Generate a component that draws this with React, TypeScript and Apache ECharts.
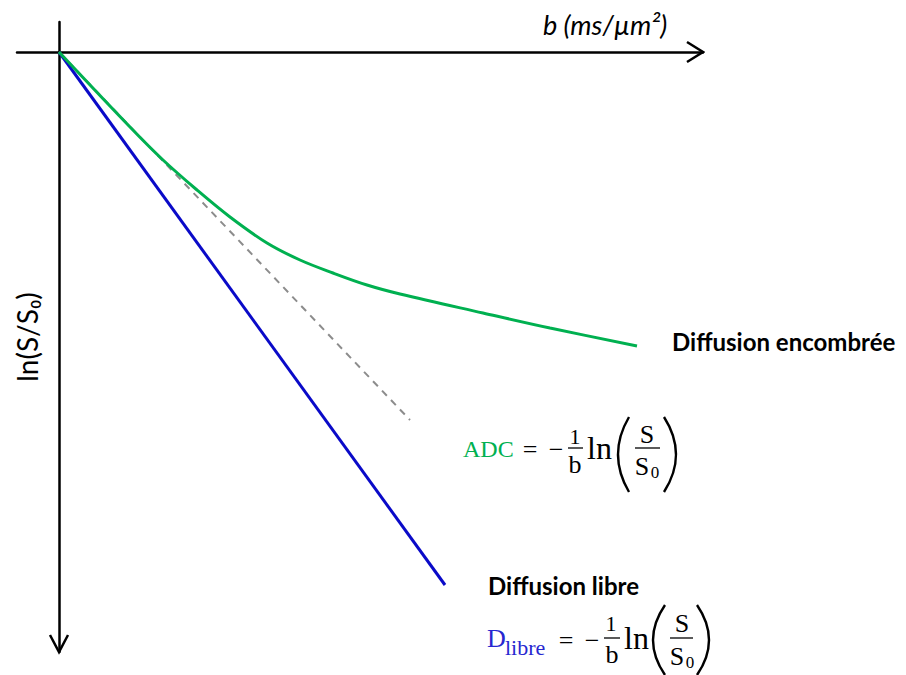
import React, { useEffect, useRef } from "react";
import * as echarts from "echarts";

// b (arbitrary units) and ln(S/S0) values
const libreB = [0, 3.86];
const libreLn = [0, -5.33];
const tangentB = [0, 3.51];
const tangentLn = [0, -3.68];
const encombreeB = [0, 0.71, 1.04, 1.38, 1.71, 2.08, 2.41, 2.74, 3.08, 3.41, 4.24, 4.91, 5.78];
const encombreeLn = [0, -0.75, -1.08, -1.38, -1.65, -1.91, -2.08, -2.21, -2.33, -2.42, -2.61, -2.76, -2.94];

const X_MIN = -0.42;
const X_MAX = 6.44;
const Y_MIN = -6.0;
const Y_MAX = 0.3;

const xArrowB = [X_MAX - 0.16, X_MAX, X_MAX - 0.16];
const xArrowLn = [0.1, 0, -0.1];
const yArrowB = [-0.09, 0, 0.09];
const yArrowLn = [Y_MIN + 0.17, Y_MIN, Y_MIN + 0.17];

const zip = (a: number[], b: number[]) => a.map((v, i) => [v, b[i]]);

const GREEN = "#00B050";
const BLUE = "#0A0AC8";
const MATH_BLUE = "#2727D0";
const SERIF = "'Liberation Serif', 'DejaVu Serif', serif";
const SANS = "Lato, 'Open Sans', sans-serif";

function mathText(text: string, x: number, y: number, size: number, color = "#000", align = "center") {
  return {
    type: "text",
    x,
    y,
    style: {
      text,
      font: `${size}px ${SERIF}`,
      fill: color,
      textAlign: align,
      textVerticalAlign: "middle",
    },
  };
}

function bar(x1: number, x2: number, y: number) {
  return {
    type: "line",
    shape: { x1, y1: y, x2, y2: y },
    style: { stroke: "#000", lineWidth: 1.3 },
  };
}

function paren(x: number, cx: number, y1: number, y2: number) {
  return {
    type: "bezierCurve",
    shape: { x1: x, y1, x2: x, y2, cpx1: cx, cpy1: (y1 + y2) / 2 },
    style: { stroke: "#000", lineWidth: 2.4, fill: null },
  };
}

export default function App() {
  const ref = useRef<HTMLDivElement>(null);

  useEffect(() => {
    if (!ref.current) return;
    const chart = echarts.init(ref.current, undefined, { renderer: "svg" });
    const axisLine = { show: true, onZero: true, lineStyle: { color: "#000", width: 2.5 } };
    chart.setOption({
      animation: false,
      backgroundColor: "#fff",
      grid: { left: 17, right: 203, top: 22, bottom: 23, outerBoundsMode: "none" },
      xAxis: {
        type: "value",
        min: X_MIN,
        max: X_MAX,
        axisLine,
        axisTick: { show: false },
        axisLabel: { show: false },
        splitLine: { show: false },
      },
      yAxis: {
        type: "value",
        min: Y_MIN,
        max: Y_MAX,
        axisLine,
        axisTick: { show: false },
        axisLabel: { show: false },
        splitLine: { show: false },
      },
      series: [
        {
          name: "Diffusion libre",
          type: "line",
          data: zip(libreB, libreLn),
          symbol: "none",
          clip: false,
          lineStyle: { color: BLUE, width: 3 },
        },
        {
          name: "ADC",
          type: "line",
          data: zip(tangentB, tangentLn),
          symbol: "none",
          clip: false,
          lineStyle: { color: "#8C8C8C", width: 2, type: [7, 6] },
        },
        {
          name: "Diffusion encombrée",
          type: "line",
          data: zip(encombreeB, encombreeLn),
          symbol: "none",
          smooth: 0.35,
          clip: false,
          lineStyle: { color: GREEN, width: 3 },
        },
        {
          name: "xArrow",
          type: "line",
          data: zip(xArrowB, xArrowLn),
          symbol: "none",
          clip: false,
          lineStyle: { color: "#000", width: 2.5, join: "miter" },
        },
        {
          name: "yArrow",
          type: "line",
          data: zip(yArrowB, yArrowLn),
          symbol: "none",
          clip: false,
          lineStyle: { color: "#000", width: 2.5, join: "miter" },
        },
      ],
      graphic: [
        {
          type: "text",
          x: 543,
          y: 24,
          style: {
            text: "b (ms/µm²)",
            font: `italic 27px ${SANS}`,
            fill: "#000",
            textAlign: "left",
            textVerticalAlign: "middle",
          },
        },
        {
          type: "text",
          x: 27,
          y: 337,
          rotation: Math.PI / 2,
          style: {
            text: "ln(S/S₀)",
            font: `28px ${SANS}`,
            fill: "#000",
            textAlign: "center",
            textVerticalAlign: "middle",
          },
        },
        {
          type: "text",
          x: 672,
          y: 341,
          style: {
            text: "Diffusion encombrée",
            font: `bold 24px ${SANS}`,
            fill: "#000",
            textAlign: "left",
            textVerticalAlign: "middle",
          },
        },
        {
          type: "text",
          x: 488,
          y: 585,
          style: {
            text: "Diffusion libre",
            font: `bold 24px ${SANS}`,
            fill: "#000",
            textAlign: "left",
            textVerticalAlign: "middle",
          },
        },
        // ADC formula
        mathText("ADC", 463, 449, 24, GREEN, "left"),
        mathText("=", 530, 449, 26),
        mathText("−", 556, 449, 26),
        mathText("1", 575, 436, 22),
        bar(568, 583, 448),
        mathText("b", 575, 464, 26),
        mathText("ln", 587, 448, 32, "#000", "left"),
        paren(629, 607, 417, 492),
        paren(664, 688, 417, 492),
        mathText("S", 647, 434, 26),
        bar(635, 660, 448),
        mathText("S", 642, 466, 26),
        mathText("0", 655, 472, 17),
        // D libre formula
        mathText("D", 487, 638, 26, MATH_BLUE, "left"),
        mathText("libre", 505, 647, 22, MATH_BLUE, "left"),
        mathText("=", 566, 640, 26),
        mathText("−", 592, 640, 26),
        mathText("1", 611, 623, 22),
        bar(604, 620, 638),
        mathText("b", 612, 654, 26),
        mathText("ln", 624, 638, 32, "#000", "left"),
        paren(665, 641, 605, 675),
        paren(697, 721, 605, 675),
        mathText("S", 682, 623, 26),
        bar(670, 693, 638),
        mathText("S", 677, 656, 26),
        mathText("0", 690, 662, 17),
      ],
    });
    return () => chart.dispose();
  }, []);

  return (
    <div
      ref={ref}
      style={{ position: "fixed", left: 0, top: 0, width: 906, height: 675, background: "#fff" }}
    />
  );
}
